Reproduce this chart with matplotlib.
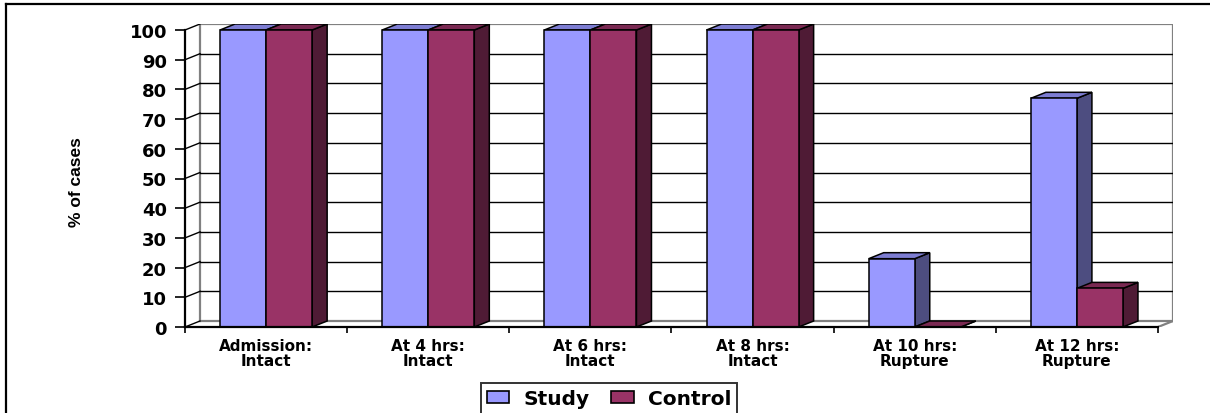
import matplotlib.pyplot as plt
from matplotlib.patches import Polygon
from matplotlib.lines import Line2D

plt.rcParams['font.family'] = ['DejaVu Sans']
plt.rcParams['font.weight'] = 'bold'

categories = ["Admission:\nIntact", "At 4 hrs:\nIntact", "At 6 hrs:\nIntact",
              "At 8 hrs:\nIntact", "At 10 hrs:\nRupture", "At 12 hrs:\nRupture"]
study = [100, 100, 100, 100, 23, 77]
control = [100, 100, 100, 100, 0, 13]

# face colours: front, side, top
study_cols = ("#9999FF", "#4D4D80", "#7D7DD2")
control_cols = ("#993366", "#4F1B35", "#7A2952")

W, H = 1210, 414
fig = plt.figure(figsize=(W / 100, H / 100), dpi=100)

# plot area in pixels: front axis x=185, back wall right x=1173, floor y=328, wall top y=25
ax = fig.add_axes([185 / W, (H - 328) / H, (1173 - 185) / W, (328 - 25) / H])
n = len(categories)
dx = 15 / 162.0      # depth offset in category units
dy = 6 / 2.97        # depth offset in percent units
ax.set_xlim(0, n + dx)
ax.set_ylim(0, 100 + dy)
ax.patch.set_visible(False)

# back wall, floor and gridlines
wall = "#808080"
ax.plot([dx, dx, n + dx, n + dx], [dy, 100 + dy, 100 + dy, dy], color=wall, lw=1.6, zorder=1)
ax.plot([dx, n + dx], [dy, dy], color=wall, lw=1.6, zorder=1)
ax.plot([n, n + dx], [0, dy], color=wall, lw=1.6, zorder=1)
for v in range(10, 100, 10):
    ax.plot([dx, n + dx], [v + dy, v + dy], color="black", lw=1, zorder=1)
for v in range(0, 101, 10):
    ax.plot([0, dx], [v, v + dy], color="black", lw=1, zorder=1)


def bar3d(x0, width, h, cols):
    x1 = x0 + width
    front = Polygon([(x0, 0), (x1, 0), (x1, h), (x0, h)], closed=True)
    side = Polygon([(x1, 0), (x1 + dx, dy), (x1 + dx, h + dy), (x1, h)], closed=True)
    top = Polygon([(x0, h), (x0 + dx, h + dy), (x1 + dx, h + dy), (x1, h)], closed=True)
    for p, c in zip((side, top, front), (cols[1], cols[2], cols[0])):
        p.set_facecolor(c)
        p.set_edgecolor("black")
        p.set_linewidth(1.1)
        p.set_zorder(3)
        ax.add_patch(p)


bw = 46 / 162.0
for i in range(n):
    c = i + 0.5
    bar3d(c - bw, bw, study[i], study_cols)
    bar3d(c, bw, control[i], control_cols)

# axes, ticks and labels
for s in ("top", "right"):
    ax.spines[s].set_visible(False)
ax.spines["left"].set_bounds(0, 100)
ax.spines["bottom"].set_bounds(0, n)
ax.spines["left"].set_linewidth(1.6)
ax.spines["bottom"].set_linewidth(1.6)
ax.spines["left"].set_zorder(4)
ax.spines["bottom"].set_zorder(4)

ax.set_yticks(range(0, 101, 10))
ax.tick_params(axis="y", direction="out", length=7, width=1.2, pad=6, labelsize=13)
ax.set_xticks(range(n + 1))
ax.set_xticklabels([])
ax.set_xticks([i + 0.5 for i in range(n)], minor=True)
ax.set_xticklabels(categories, minor=True, fontsize=11, linespacing=1.0)
ax.tick_params(axis="x", which="major", direction="out", length=4, width=1.2)
ax.tick_params(axis="x", which="minor", length=0, pad=8)

fig.text(77 / W, 1 - 182 / H, "% of cases", rotation=90, ha="center", va="center",
         fontsize=12.5, fontweight="bold", family=["Liberation Sans", "DejaVu Sans"])

handles = [Polygon([(0, 0)], facecolor=study_cols[0], edgecolor="black", lw=1.2, label="Study"),
           Polygon([(0, 0)], facecolor=control_cols[0], edgecolor="black", lw=1.2, label="Control")]
leg = fig.legend(handles=handles, loc="center", bbox_to_anchor=(609 / W, 1 - 400 / H),
                 ncol=2, fontsize=14.5, frameon=True, fancybox=False, handlelength=1.1,
                 handleheight=0.55, handletextpad=0.7, columnspacing=1.1, borderpad=0.3,
                 borderaxespad=0)
leg.get_frame().set_edgecolor("black")
leg.get_frame().set_linewidth(1.4)

# outer chart border (top and left edges)
fig.add_artist(Line2D([6 / W, 1.0], [1 - 5 / H, 1 - 5 / H], color="black", lw=1.6,
                      transform=fig.transFigure))
fig.add_artist(Line2D([6 / W, 6 / W], [0, 1 - 5 / H], color="black", lw=1.6,
                      transform=fig.transFigure))

fig.savefig("out.png", dpi=100)
